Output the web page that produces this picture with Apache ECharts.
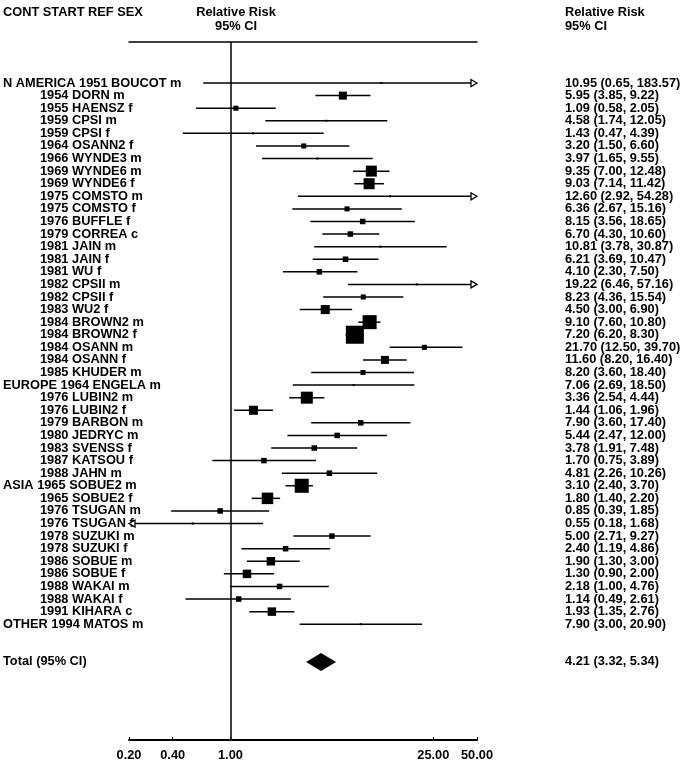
<!DOCTYPE html>
<html>
<head>
<meta charset="utf-8">
<script src="https://cdn.jsdelivr.net/npm/echarts@6/dist/echarts.min.js"></script>
<style>html,body{margin:0;padding:0;background:#fff}#c{width:685px;height:763px}</style>
</head>
<body>
<div id="c"></div>
<script>
// ---- data ----
const studies = [
"N AMERICA 1951 BOUCOT m","1954 DORN m","1955 HAENSZ f","1959 CPSI m","1959 CPSI f","1964 OSANN2 f",
"1966 WYNDE3 m","1969 WYNDE6 m","1969 WYNDE6 f","1975 COMSTO m","1975 COMSTO f","1976 BUFFLE f",
"1979 CORREA c","1981 JAIN m","1981 JAIN f","1981 WU f","1982 CPSII m","1982 CPSII f","1983 WU2 f",
"1984 BROWN2 m","1984 BROWN2 f","1984 OSANN m","1984 OSANN f","1985 KHUDER m","EUROPE 1964 ENGELA m",
"1976 LUBIN2 m","1976 LUBIN2 f","1979 BARBON m","1980 JEDRYC m","1983 SVENSS f","1987 KATSOU f",
"1988 JAHN m","ASIA 1965 SOBUE2 m","1965 SOBUE2 f","1976 TSUGAN m","1976 TSUGAN f","1978 SUZUKI m",
"1978 SUZUKI f","1986 SOBUE m","1986 SOBUE f","1988 WAKAI m","1988 WAKAI f","1991 KIHARA c",
"OTHER 1994 MATOS m"];
const rr = [10.95,5.95,1.09,4.58,1.43,3.20,3.97,9.35,9.03,12.60,6.36,8.15,6.70,10.81,6.21,4.10,19.22,8.23,4.50,9.10,7.20,21.70,11.60,8.20,7.06,3.36,1.44,7.90,5.44,3.78,1.70,4.81,3.10,1.80,0.85,0.55,5.00,2.40,1.90,1.30,2.18,1.14,1.93,7.90];
const lower = [0.65,3.85,0.58,1.74,0.47,1.50,1.65,7.00,7.14,2.92,2.67,3.56,4.30,3.78,3.69,2.30,6.46,4.36,3.00,7.60,6.20,12.50,8.20,3.60,2.69,2.54,1.06,3.60,2.47,1.91,0.75,2.26,2.40,1.40,0.39,0.18,2.71,1.19,1.30,0.90,1.00,0.49,1.35,3.00];
const upper = [183.57,9.22,2.05,12.05,4.39,6.60,9.55,12.48,11.42,54.28,15.16,18.65,10.60,30.87,10.47,7.50,57.16,15.54,6.90,10.80,8.30,39.70,16.40,18.40,18.50,4.44,1.96,17.40,12.00,7.48,3.89,10.26,3.70,2.20,1.85,1.68,9.27,4.86,3.00,2.00,4.76,2.61,2.76,20.90];
// relative study weights
const weights = [0.25,4.0,1.6,0.25,0.25,1.6,0.25,7.6,7.6,0.25,1.6,1.9,1.9,0.25,1.9,1.9,0.25,1.6,5.1,12.3,20.3,1.6,4.0,1.6,0.25,9.0,5.1,1.9,1.9,1.9,1.9,1.9,12.3,8.3,1.9,0.25,1.9,1.9,4.5,4.5,1.9,1.9,4.5,0.25];
const totalLabel = "Total (95% CI)";
const totalRR = 4.21, totalLower = 3.32, totalUpper = 5.34;
const xTicks = [0.2, 0.4, 1, 25, 50];
const X_MIN = 0.2, X_MAX = 50;

// ---- build ----
const TOTAL_ROW = studies.length + 2;
const SPACER = -3; // empty label slot above the first row
const rowIdx = [SPACER].concat(studies.map((_, i) => i), [TOTAL_ROW]);
const studyData = studies.map((_, i) => [i, rr[i], lower[i], upper[i], weights[i]]);
const fmt = v => v.toFixed(2);
const FONT = "'Liberation Sans', Arial, Helvetica, sans-serif";
const FS = 12.8;
const txt = {fontFamily: FONT, fontWeight: 'bold', fontSize: FS, color: '#000'};

function renderStudy(params, api) {
  const y = api.value(0), r = api.value(1), l = api.value(2), h = api.value(3), w = api.value(4);
  const lc = Math.max(l, X_MIN), hc = Math.min(h, X_MAX);
  const p1 = api.coord([lc, y]), p2 = api.coord([hc, y]), pc = api.coord([r, y]);
  const ah = 6, aw = 3.5;
  let x1 = p1[0], x2 = p2[0];
  const children = [];
  if (h > X_MAX) x2 -= ah;
  if (l < X_MIN) x1 += ah;
  children.push({type: 'line', shape: {x1: x1, y1: p1[1], x2: x2, y2: p2[1]}, style: {stroke: '#000', lineWidth: 1.5}});
  if (h > X_MAX) {
    children.push({type: 'polygon', shape: {points: [[p2[0], p2[1]], [p2[0] - ah, p2[1] - aw], [p2[0] - ah, p2[1] + aw]]}, style: {fill: '#fff', stroke: '#000', lineWidth: 1.3}});
  }
  if (l < X_MIN) {
    children.push({type: 'polygon', shape: {points: [[p1[0], p1[1]], [p1[0] + ah, p1[1] - aw], [p1[0] + ah, p1[1] + aw]]}, style: {fill: '#fff', stroke: '#000', lineWidth: 1.3}});
  }
  const s = 4 * Math.sqrt(w);
  children.push({type: 'rect', shape: {x: pc[0] - s / 2, y: pc[1] - s / 2, width: s, height: s}, style: {fill: '#000'}});
  return {type: 'group', children: children};
}

function renderTotal(params, api) {
  const y = api.value(0);
  const pc = api.coord([api.value(1), y]), pl = api.coord([api.value(2), y]), ph = api.coord([api.value(3), y]);
  const hh = 9;
  return {type: 'polygon', shape: {points: [[pl[0], pl[1]], [pc[0], pc[1] - hh], [ph[0], ph[1]], [pc[0], pc[1] + hh]]}, style: {fill: '#000'}};
}

const Y_MIN = -3.26, Y_MAX = 52.2;

const option = {
  animation: false,
  backgroundColor: '#fff',
  title: [
    {text: 'CONT START REF SEX', left: 3, top: 6, padding: 0, textStyle: Object.assign({}, txt)},
    {text: 'Relative Risk\n95% CI', left: 236, top: 6, padding: 0, textAlign: 'center', textStyle: Object.assign({lineHeight: 13.5, align: 'center'}, txt)},
    {text: 'Relative Risk\n95% CI', left: 565, top: 6, padding: 0, textStyle: Object.assign({lineHeight: 13.5}, txt)}
  ],
  grid: {left: 129, right: 208, top: 42, bottom: 23, containLabel: false},
  xAxis: [
    {type: 'log', logBase: 10, min: X_MIN, max: X_MAX, position: 'bottom',
     axisLine: {onZero: false, lineStyle: {color: '#000', width: 2}},
     axisTick: {customValues: xTicks, inside: true, length: 3, lineStyle: {color: '#000', width: 1}},
     axisLabel: Object.assign({customValues: xTicks, formatter: v => fmt(Number(v)), margin: 9, showMinLabel: true, showMaxLabel: true}, txt),
     splitLine: {show: false}, minorTick: {show: false}},
    {type: 'log', logBase: 10, min: X_MIN, max: X_MAX, position: 'top',
     axisLine: {onZero: false, lineStyle: {color: '#000', width: 1.5}},
     axisTick: {show: false}, axisLabel: {show: false}, splitLine: {show: false}}
  ],
  yAxis: [
    {type: 'value', inverse: true, min: Y_MIN, max: Y_MAX, position: 'left',
     axisLine: {show: false}, axisTick: {show: false}, splitLine: {show: false},
     axisLabel: {customValues: rowIdx, align: 'left', margin: 126, showMinLabel: true, showMaxLabel: true, hideOverlap: false,
       formatter: v => {
         if (v === SPACER) return ' ';
         const t = v === TOTAL_ROW ? totalLabel : studies[v];
         return /^[0-9]/.test(t) ? '{i|' + t + '}' : '{n|' + t + '}';
       },
       rich: {i: Object.assign({padding: [0, 0, 0, 37]}, txt), n: Object.assign({}, txt)}}},
    {type: 'value', inverse: true, min: Y_MIN, max: Y_MAX, position: 'right',
     axisLine: {show: false}, axisTick: {show: false}, splitLine: {show: false},
     axisLabel: Object.assign({customValues: rowIdx, align: 'left', margin: 88, showMinLabel: true, showMaxLabel: true, hideOverlap: false,
       formatter: v => {
         if (v === SPACER) return ' ';
         if (v === TOTAL_ROW) return fmt(totalRR) + ' (' + fmt(totalLower) + ', ' + fmt(totalUpper) + ')';
         return fmt(rr[v]) + ' (' + fmt(lower[v]) + ', ' + fmt(upper[v]) + ')';
       }}, txt)}
  ],
  series: [
    {type: 'custom', xAxisIndex: 0, yAxisIndex: 0, renderItem: renderStudy, data: studyData,
     encode: {x: [1, 2, 3], y: 0}, silent: true, z: 3,
     markLine: {silent: true, symbol: 'none', label: {show: false}, lineStyle: {color: '#000', width: 1.5, type: 'solid'}, data: [{xAxis: 1}]}},
    {type: 'custom', xAxisIndex: 0, yAxisIndex: 0, renderItem: renderTotal,
     data: [[TOTAL_ROW, totalRR, totalLower, totalUpper]], encode: {x: [1, 2, 3], y: 0}, silent: true, z: 3}
  ]
};
const chart = echarts.init(document.getElementById('c'), null, {renderer: 'canvas'});
chart.setOption(option);
</script>
</body>
</html>
